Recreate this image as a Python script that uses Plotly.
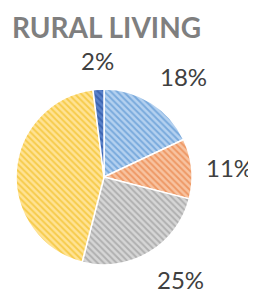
import math
import plotly.graph_objects as go

labels = ["A", "B", "C", "D", "E"]
values = [18, 11, 25, 44, 2]
bg_colors = ["#B4D1F0", "#F8C3A0", "#D6D6D6", "#FFE395", "#5A82CA"]
fg_colors = ["#78A9DC", "#EE9864", "#AFAFAF", "#F6CB4A", "#3B63B0"]
title_text = "RURAL LIVING"

# page body keeps an 8px margin, so the figure is sized to the visible area
W, H = 248, 288
dom_x = [0.0323, 0.7419]
dom_y = [0.1076, 0.7188]

fig = go.Figure(go.Pie(
    labels=labels,
    values=values,
    sort=False,
    direction="clockwise",
    rotation=0,
    textinfo="none",
    marker=dict(
        colors=bg_colors,
        line=dict(color="white", width=1.5),
        pattern=dict(shape="\\", fgcolor=fg_colors, bgcolor=bg_colors,
                     size=4.5, solidity=0.42, fillmode="replace"),
    ),
    domain=dict(x=dom_x, y=dom_y),
    showlegend=False,
    hoverinfo="skip",
))

# outside-end percentage labels placed along each slice's mid angle
total = sum(values)
cx = (dom_x[0] + dom_x[1]) / 2
cy = (dom_y[0] + dom_y[1]) / 2
r_px = min((dom_x[1] - dom_x[0]) * W, (dom_y[1] - dom_y[0]) * H) / 2
gap = 12
cum = 0
for v in values:
    theta = math.radians((cum + v / 2) / total * 360)
    cum += v
    s, c = math.sin(theta), math.cos(theta)
    x = cx + (r_px + gap) * s / W
    y = cy + (r_px + gap) * c / H
    xa = "left" if s > 0.3 else ("right" if s < -0.3 else "center")
    ya = "bottom" if c > 0.3 else ("top" if c < -0.3 else "middle")
    fig.add_annotation(
        x=x, y=y, xref="paper", yref="paper", xanchor=xa, yanchor=ya,
        text=f"{v / total:.0%}", showarrow=False,
        font=dict(family="Lato", size=24, color="#404040"),
    )

fig.update_layout(
    width=W, height=H,
    margin=dict(l=0, r=0, t=0, b=0, autoexpand=False),
    paper_bgcolor="white",
    plot_bgcolor="white",
    title=dict(text="<b>" + title_text + "</b>", x=0.016, xanchor="left",
               y=0.93, yanchor="middle", automargin=False,
               font=dict(family="Lato", size=28, color="#7F7F7F")),
)

fig.write_html("out.html")
